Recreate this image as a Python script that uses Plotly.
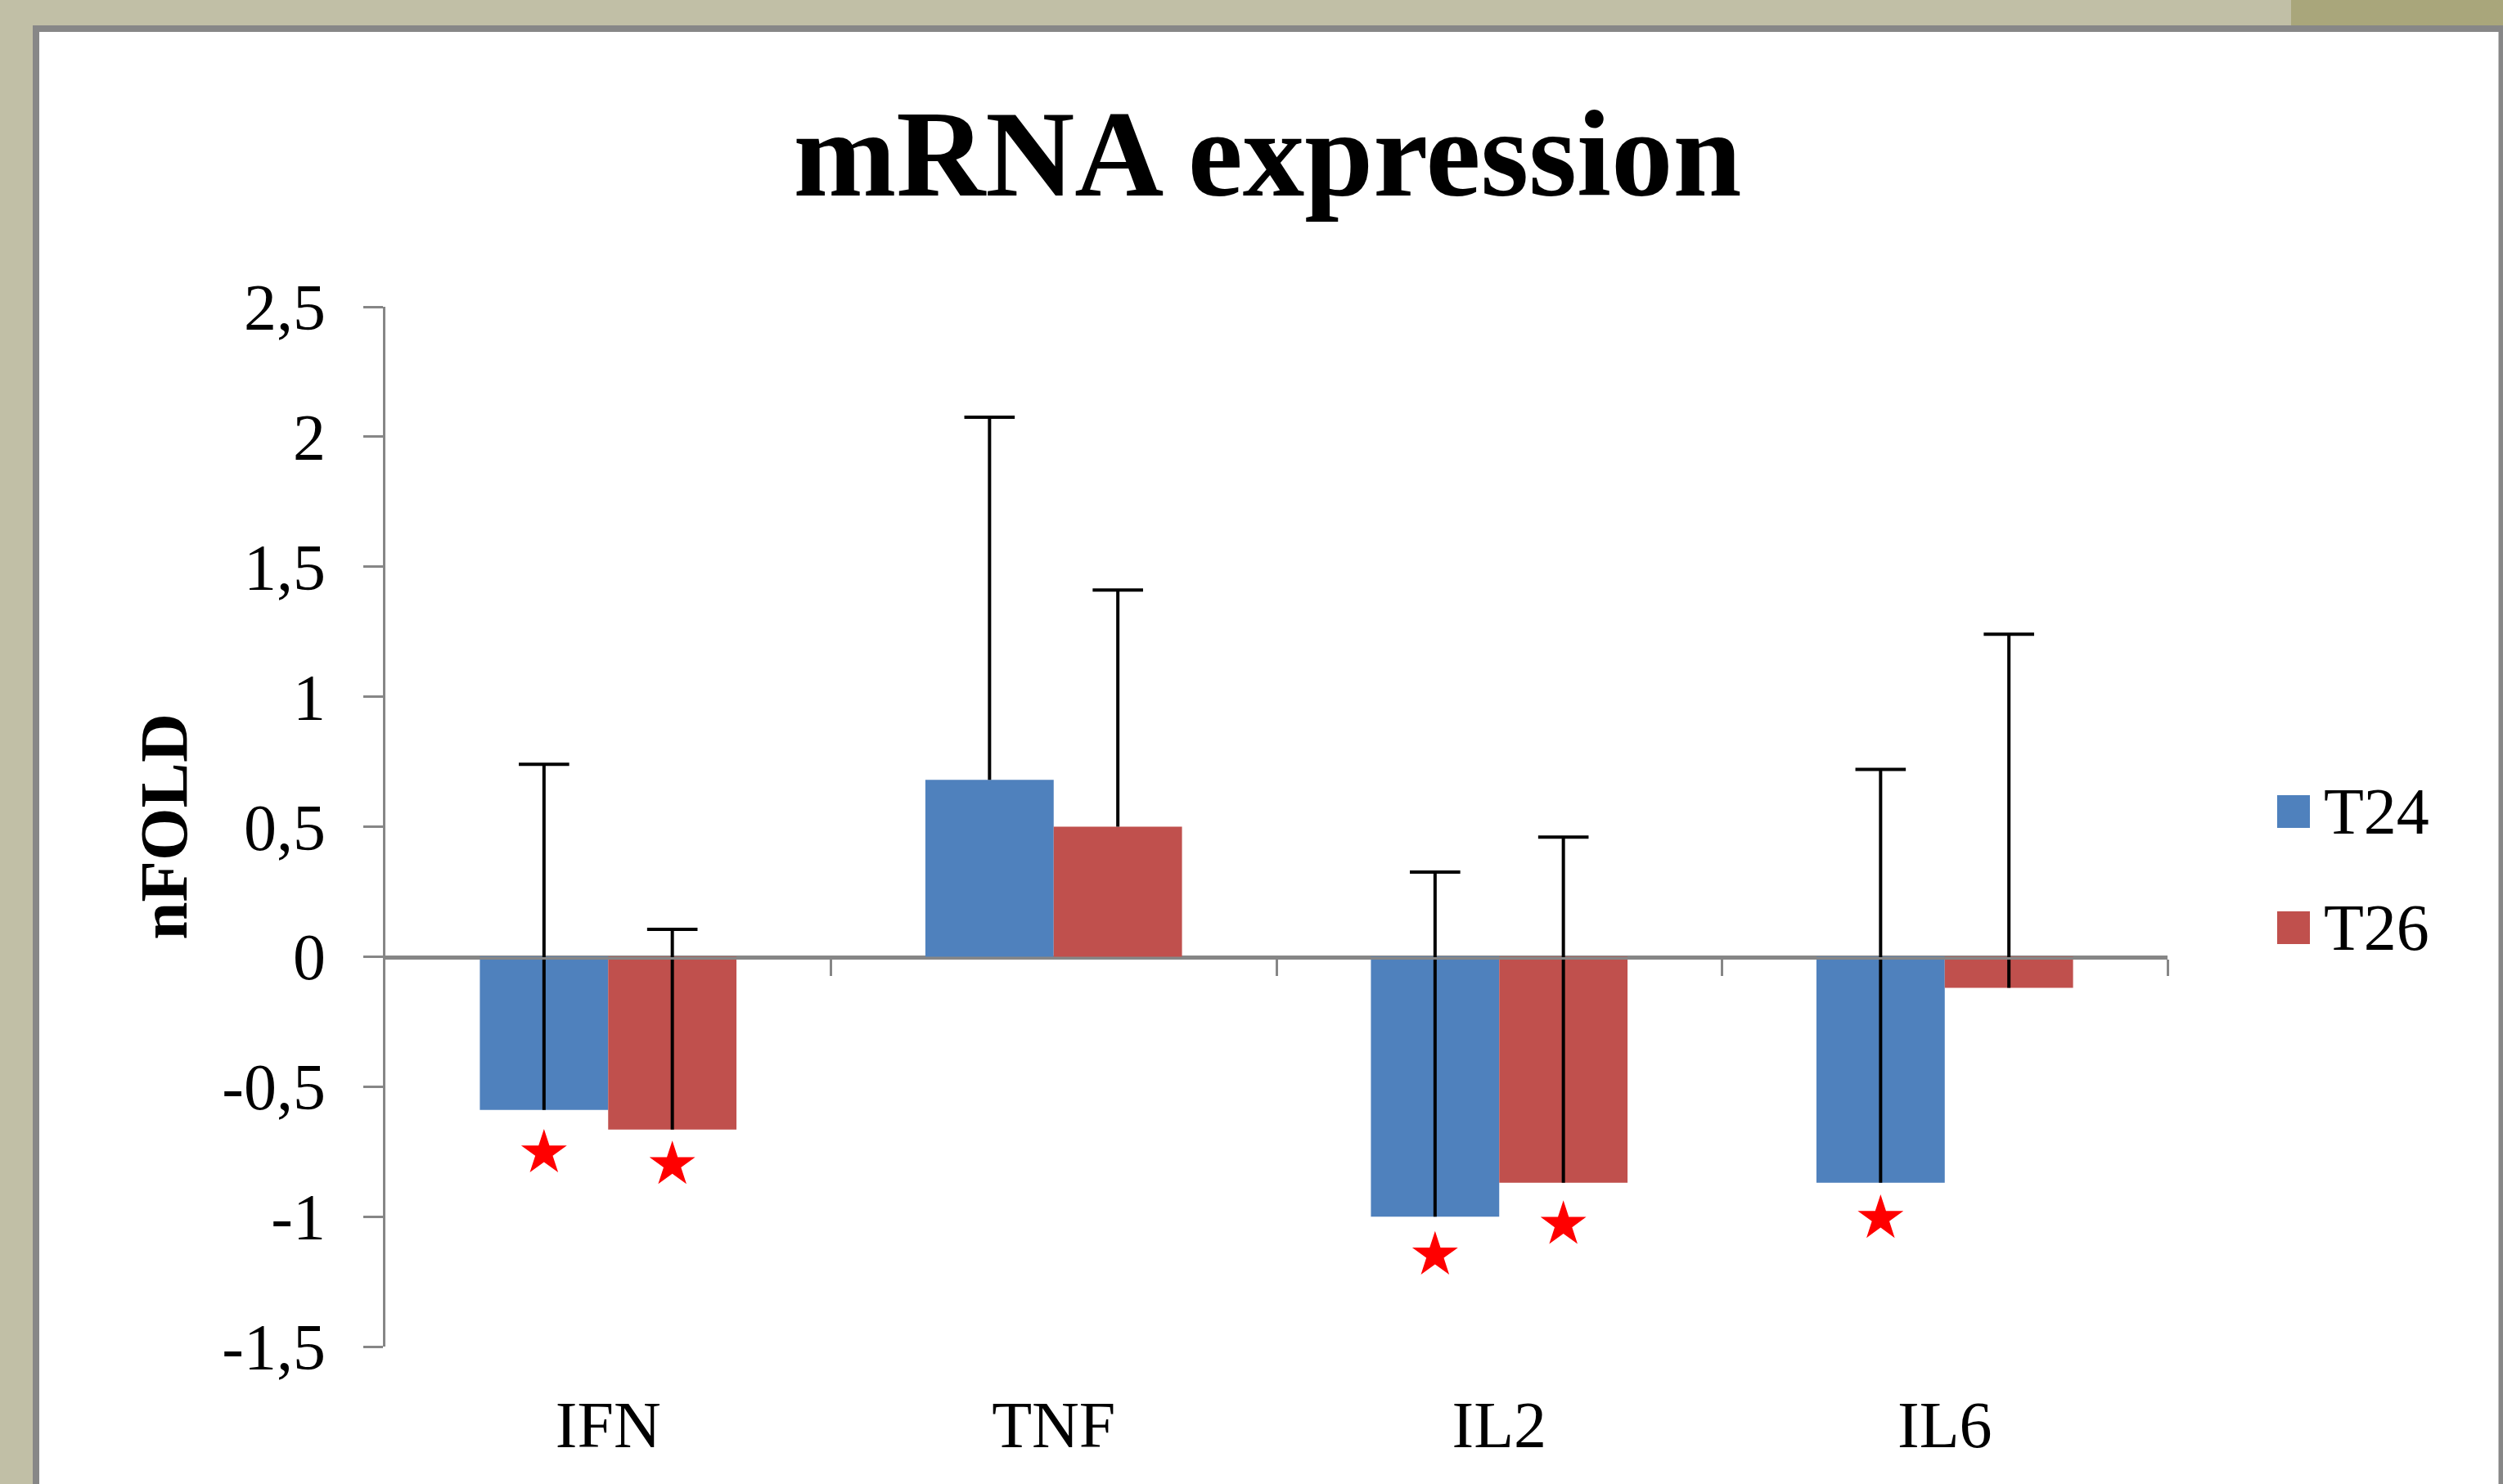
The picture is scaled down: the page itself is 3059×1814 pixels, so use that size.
import plotly.graph_objects as go

# ---- data ----
categories = ["IFN", "TNF", "IL2", "IL6"]
series_names = ["T24", "T26"]
t24_values = [-0.59, 0.68, -1.00, -0.87]
t26_values = [-0.665, 0.50, -0.87, -0.12]
t24_err_plus = [1.33, 1.395, 1.325, 1.59]
t26_err_plus = [0.77, 0.91, 1.33, 1.36]
t24_stars = [-0.755, None, -1.148, -1.007]
t26_stars = [-0.80, None, -1.03, None]
ytick_vals = [-1.5, -1, -0.5, 0, 0.5, 1, 1.5, 2, 2.5]
ytick_text = ["-1,5", "-1", "-0,5", "0", "0,5", "1", "1,5", "2", "2,5"]
boundary_ticks = [0.5, 1.5, 2.5, 3.5]

# ---- styling ----
W, H = 3059, 1814
L, R, T, B = 471, 2649, 375, 1646
FONT = "Liberation Serif"
BLUE, RED = "#4F81BD", "#C0504D"
GRAY = "#868686"
BARGAP = 0.424


def px(x):
    return (x - L) / (R - L)


def py(y):
    return (B - y) / (B - T)


fig = go.Figure()

colors = [BLUE, RED]
vals = [t24_values, t26_values]
errs = [t24_err_plus, t26_err_plus]
stars = [t24_stars, t26_stars]

for name, c, v, e in zip(series_names, colors, vals, errs):
    fig.add_trace(go.Bar(
        x=categories, y=v, name=name, offsetgroup=name, alignmentgroup="g",
        marker=dict(color=c, line=dict(width=0)),
        error_y=dict(type="data", symmetric=False, array=e,
                     arrayminus=[0] * len(e), width=0, thickness=4,
                     color="black"),
        showlegend=False,
    ))

# error-bar caps (top end only)
for name, v, e in zip(series_names, vals, errs):
    tops = [a + b for a, b in zip(v, e)]
    fig.add_trace(go.Scatter(
        x=categories, y=tops, mode="markers", offsetgroup=name,
        alignmentgroup="g",
        marker=dict(symbol="line-ew", size=44,
                    line=dict(width=4, color="black"), color="black"),
        showlegend=False, hoverinfo="skip",
    ))

# significance stars
for name, s in zip(series_names, stars):
    fig.add_trace(go.Scatter(
        x=categories, y=s, mode="markers", offsetgroup=name,
        alignmentgroup="g", name=name + " *",
        marker=dict(symbol="star", size=42, color="#FF0000",
                    line=dict(width=0)),
        showlegend=False,
    ))

# helper (empty) trace so the zero-line axis with boundary ticks is drawn
fig.add_trace(go.Scatter(x=[], y=[], xaxis="x2", yaxis="y", mode="markers",
                         showlegend=False, hoverinfo="skip"))

shapes = [
    # top-right olive tint of the background
    dict(type="rect", xref="paper", yref="paper", x0=px(2800), x1=px(3059),
         y0=py(0), y1=py(31), fillcolor="#a9a67b", line=dict(width=0),
         layer="below"),
    # white card with gray frame
    dict(type="rect", xref="paper", yref="paper", x0=px(44), x1=px(3057.5),
         y0=py(1860), y1=py(35), fillcolor="white",
         line=dict(color="#878787", width=8), layer="below"),
]
annotations = []
legend_y = [992, 1134]
for name, c, yc in zip(series_names, colors, legend_y):
    shapes.append(dict(type="rect", xref="paper", yref="paper",
                       x0=px(2783), x1=px(2823), y0=py(yc + 20), y1=py(yc - 20),
                       fillcolor=c, line=dict(width=0)))
    annotations.append(dict(xref="paper", yref="paper", x=px(2838), y=py(yc),
                            xanchor="left", yanchor="middle", text=name,
                            showarrow=False,
                            font=dict(family=FONT, size=80, color="black")))

fig.update_layout(
    width=W, height=H,
    margin=dict(l=L, r=W - R, t=T, b=H - B, autoexpand=False),
    paper_bgcolor="#c1bfa6",
    plot_bgcolor="rgba(0,0,0,0)",
    barmode="group", bargap=BARGAP,
    scattermode="group", scattergap=BARGAP,
    separators=", ",
    font=dict(family=FONT, size=80, color="black"),
    title=dict(text="<b>mRNA expression</b>", x=1549 / W, xanchor="center",
               xref="container",
               y=1 - 186 / H, yanchor="middle", yref="container",
               font=dict(family=FONT, size=151, color="black")),
    showlegend=False,
    shapes=shapes,
    annotations=annotations,
    xaxis=dict(type="category", showline=False, ticks="", showgrid=False,
               zeroline=False, ticklabelstandoff=42,
               tickfont=dict(family=FONT, size=80, color="black")),
    xaxis2=dict(overlaying="x", anchor="free", position=py(1170.7),
                range=[-0.5, 3.5], showline=True, linecolor=GRAY, linewidth=3,
                ticks="outside", ticklen=20, tickwidth=3, tickcolor=GRAY,
                tickmode="array", tickvals=boundary_ticks,
                showticklabels=False, showgrid=False, zeroline=False),
    yaxis=dict(range=[-1.5, 2.5], tickmode="array", tickvals=ytick_vals,
               ticktext=ytick_text, showline=True, linecolor=GRAY,
               linewidth=3, ticks="outside", ticklen=24, tickwidth=3,
               tickcolor=GRAY, showgrid=False, zeroline=True,
               zerolinecolor=GRAY, zerolinewidth=3,
               ticklabelstandoff=30,
               tickfont=dict(family=FONT, size=80, color="black"),
               title=dict(text="<b>nFOLD</b>", standoff=16,
                          font=dict(family=FONT, size=83, color="black"))),
)

fig.write_html("out.html", config={"displayModeBar": False},
               post_script="document.body.style.margin='0';")
